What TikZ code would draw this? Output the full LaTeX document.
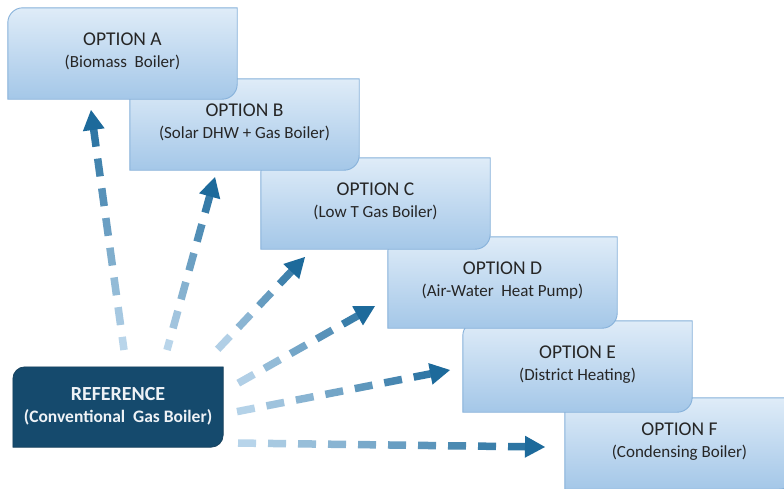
\documentclass[tikz,border=0pt]{standalone}
\usepackage{fontspec}
\setmainfont{Carlito}
\usetikzlibrary{calc,backgrounds}
\definecolor{boxtop}{HTML}{DFECF8}
\definecolor{boxbot}{HTML}{A4C7E8}
\definecolor{boxline}{HTML}{86B1DA}
\definecolor{reffill}{HTML}{154A6D}
\definecolor{txt}{HTML}{262626}
\definecolor{reftxt}{HTML}{EEF2F6}
\definecolor{arlight}{HTML}{BCD7EC}
\definecolor{ardark}{HTML}{1D6A9B}

\tikzset{
  optbox/.style={minimum width=229pt, minimum height=91pt, inner sep=0pt},
  refbox/.style={minimum width=210pt, minimum height=80pt, inner sep=0pt},
  optshape/.style={top color=boxtop, bottom color=boxbot, draw=boxline, line width=0.9pt},
  refshape/.style={fill=reffill, draw=reffill!80!black, line width=0.6pt},
  opttext/.style={align=center, text=txt, font=\fontsize{19.5}{22}\selectfont, inner sep=0pt},
  reftext/.style={align=center, text=reftxt, font=\bfseries\fontsize{20}{22}\selectfont, inner sep=0pt},
}
\newcommand\subf{\fontsize{17}{22}\selectfont}
\newcommand\subfb{\fontsize{17.5}{22}\selectfont}

\newcommand\boxshape[3]{%
  \begin{scope}[on background layer]
  \path[#3] let \p1=(#1.north west), \p2=(#1.south east) in
    (\x1,\y1-#2) arc[start angle=180,end angle=90,radius=#2] -- (\x2,\y1)
    -- (\x2,\y2+#2) arc[start angle=0,end angle=-90,radius=#2] -- (\x1,\y2) -- cycle;
  \end{scope}}

\makeatletter
\newcommand\gradarrow[2]{%
  \pgfpointdiff{\pgfpointanchor{#1}{center}}{\pgfpointanchor{#2}{center}}%
  \edef\gax{\the\pgf@x}\edef\gay{\the\pgf@y}%
  \pgfmathsetmacro\galen{veclen(\gax,\gay)}%
  \pgfmathsetmacro\gaS{\galen-19}%
  \foreach \k in {0,...,25}{%
    \pgfmathsetmacro\gaE{\gaS-30*\k}%
    \pgfmathsetmacro\gaB{max(0,\gaE-18)}%
    \ifdim\gaE pt>3pt
      \pgfmathtruncatemacro\gaP{((\gaB+\gaE)/2/\galen)*100}%
      \draw[line width=7.5pt, color=ardark!\gaP!arlight]
        ($(#1)!\gaB/\galen!(#2)$) -- ($(#1)!\gaE/\galen!(#2)$);
    \fi
  }%
  \pgfmathsetmacro\gaH{(\galen-20)/\galen}%
  \coordinate (gahb) at ($(#1)!\gaH!(#2)$);
  \fill[ardark] (#2) -- ($(gahb)!11pt!90:(#1)$) -- ($(gahb)!11pt!-90:(#1)$) -- cycle;
}
\makeatother

\begin{document}
\begin{tikzpicture}[x=1pt,y=-1pt]
\useasboundingbox (0,0) rectangle (784,488);
\begin{scope}[on background layer]
\fill[white] (0,0) rectangle (784,488);
\end{scope}

% boxes, lowest first
\node[optbox] (F) at (679.5,443.5) {};
\boxshape{F}{15pt}{optshape}
\node[opttext] (Ft) at ($(F.center)+(0,-2)$) {OPTION F\\{\subf (Condensing Boiler)}};

\node[optbox] (E) at (577.5,366.5) {};
\boxshape{E}{15pt}{optshape}
\node[opttext] (Et) at ($(E.center)+(0,-2)$) {OPTION E\\{\subf (District Heating)}};

\node[optbox] (D) at (502.5,282.5) {};
\boxshape{D}{15pt}{optshape}
\node[opttext] (Dt) at ($(D.center)+(0,-2)$) {OPTION D\\{\subf (Air-Water\ \ Heat Pump)}};

\node[optbox] (C) at (375.5,203.5) {};
\boxshape{C}{15pt}{optshape}
\node[opttext] (Ct) at ($(C.center)+(0,-2)$) {OPTION C\\{\subf (Low T Gas Boiler)}};

\node[optbox] (B) at (244.5,124.5) {};
\boxshape{B}{15pt}{optshape}
\node[opttext] (Bt) at ($(B.center)+(0,-2)$) {OPTION B\\{\subf (Solar DHW + Gas Boiler)}};

\node[optbox] (A) at (122.5,53.5) {};
\boxshape{A}{15pt}{optshape}
\node[opttext] (At) at ($(A.center)+(0,-2)$) {OPTION A\\{\subf (Biomass\ \ Boiler)}};

% reference box
\node[refbox] (R) at (118,407) {};
\boxshape{R}{12pt}{refshape}
\node[reftext] (Rt) at ($(R.center)+(0,-1)$) {REFERENCE\\{\subfb (Conventional\ \ Gas Boiler)}};

% arrows
\coordinate (t1) at (124,350); \coordinate (h1) at (91,110);
\coordinate (t2) at (167,350); \coordinate (h2) at (215,177);
\coordinate (t3) at (217,350); \coordinate (h3) at (305,257);
\coordinate (t4) at (235,385); \coordinate (h4) at (375,306);
\coordinate (t5) at (235,412); \coordinate (h5) at (450,370);
\coordinate (t6) at (235,443); \coordinate (h6) at (545,447);
\gradarrow{t1}{h1}
\gradarrow{t2}{h2}
\gradarrow{t3}{h3}
\gradarrow{t4}{h4}
\gradarrow{t5}{h5}
\gradarrow{t6}{h6}
\end{tikzpicture}
\end{document}
